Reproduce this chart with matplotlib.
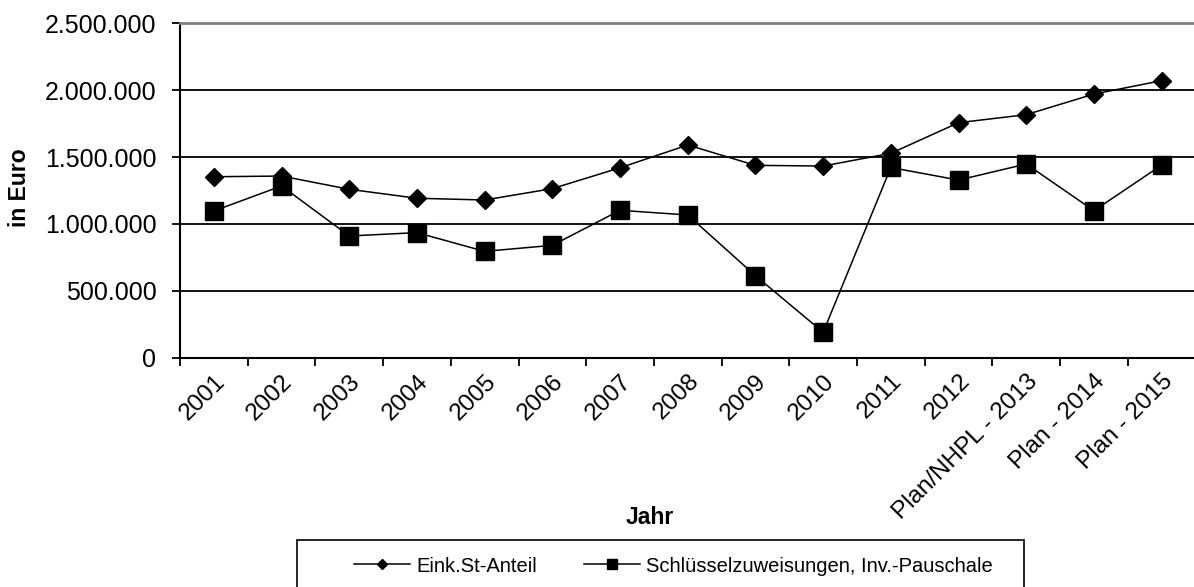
import numpy as np
import matplotlib
matplotlib.use("Agg")
import matplotlib.pyplot as plt
from matplotlib.patches import Rectangle
from matplotlib.ticker import FixedLocator, FuncFormatter

plt.rcParams['font.family'] = ['Liberation Sans', 'DejaVu Sans']

# data
years = ["2001", "2002", "2003", "2004", "2005", "2006", "2007", "2008",
         "2009", "2010", "2011", "2012", "Plan/NHPL - 2013", "Plan - 2014", "Plan - 2015"]
eink_st = [1353000, 1358000, 1259000, 1192000, 1179000, 1264000, 1420000, 1590000,
           1438000, 1433000, 1528000, 1757000, 1817000, 1971000, 2071000]
schluessel = [1097000, 1284000, 910000, 935000, 795000, 840000, 1102000, 1067000,
              613000, 190000, 1422000, 1328000, 1448000, 1099000, 1440000]

W, H = 1194, 587
fig = plt.figure(figsize=(W / 100, H / 100), dpi=100)
ax = fig.add_axes([180 / W, 1 - 357.7 / H, 1015.5 / W, 334.4 / H])

x = np.arange(len(years))
ax.plot(x, eink_st, color="black", lw=1.1, marker="D", ms=9.5,
        label="Eink.St-Anteil", clip_on=False, zorder=3)
ax.plot(x, schluessel, color="black", lw=1.1, marker="s", ms=13,
        label="Schlüsselzuweisungen, Inv.-Pauschale", clip_on=False, zorder=3)

ax.set_xlim(-0.5, len(years) - 0.5)
ax.set_ylim(0, 2500000)
ax.set_yticks(np.arange(0, 2500001, 500000))
ax.yaxis.set_major_formatter(FuncFormatter(lambda v, p: f"{int(v):,}".replace(",", ".")))
ax.grid(axis="y", color="black", lw=1.3)
ax.set_axisbelow(True)

# ticks sit between the categories, labels under the points
ax.xaxis.set_major_locator(FixedLocator(np.arange(-0.5, len(years), 1)))
ax.xaxis.set_major_formatter(FuncFormatter(lambda v, p: ""))
ax.set_xticks(x, minor=True)
ax.set_xticklabels(years, minor=True, rotation=45, ha="right", rotation_mode="anchor",
                   fontsize=17.5)
ax.tick_params(axis="x", which="minor", length=0, pad=9)
ax.tick_params(axis="x", which="major", length=6, width=1.3, direction="out")
ax.tick_params(axis="y", length=6, width=1.3, labelsize=18, pad=11)

ax.spines["right"].set_visible(False)
ax.spines["top"].set_color("#808080")
ax.spines["top"].set_linewidth(2)
ax.spines["left"].set_linewidth(1.5)
ax.spines["bottom"].set_linewidth(1.5)

fig.text(20 / W, 1 - 188 / H, "in Euro", rotation=90, fontsize=16.5,
         fontweight="bold", ha="center", va="center")
fig.text(650 / W, 1 - 518 / H, "Jahr", fontsize=16.5, fontweight="bold",
         ha="center", va="center")

# legend box drawn by hand, entries placed inside it
fig.patches.append(Rectangle((297 / W, -0.05), 727 / W, 0.05 + 1 - 540 / H,
                             transform=fig.transFigure, fill=False,
                             edgecolor="black", lw=1.2))
fig.legend(loc="center left", bbox_to_anchor=(354 / W, 1 - 566 / H), ncol=2,
           frameon=False, fontsize=14.5, markerscale=0.55, handlelength=2.8,
           handletextpad=0.3, columnspacing=2.3, borderpad=0, borderaxespad=0)

fig.savefig("out.png", dpi=100)
